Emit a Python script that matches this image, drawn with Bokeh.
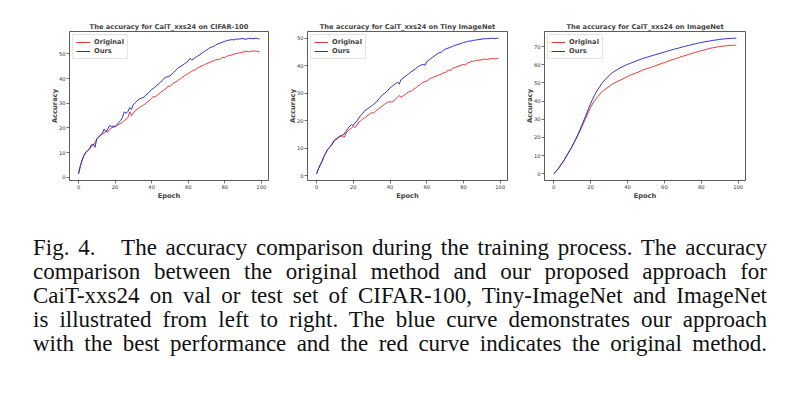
from bokeh.plotting import figure
from bokeh.models import Range1d, Div, FixedTicker
from bokeh.layouts import row, column
from bokeh.embed import file_html
from bokeh.resources import INLINE

epochs = list(range(100))

cifar_original = [1.5, 4.5, 7.0, 8.8, 10.0, 10.8, 11.5, 12.5, 13.0, 14.0,
                  15.5, 16.2, 17.0, 17.5, 18.0, 18.6, 18.3, 19.5, 20.0, 20.3,
                  20.5, 21.0, 21.5, 21.8, 22.3, 23.0, 23.5, 24.2, 26.5, 25.0,
                  26.0, 27.0, 27.5, 28.0, 28.7, 29.0, 29.5, 30.0, 30.8, 31.2,
                  32.0, 32.8, 32.5, 33.2, 33.8, 34.5, 35.0, 35.6, 36.0, 37.0,
                  36.8, 37.5, 38.2, 38.6, 39.0, 39.6, 40.0, 40.6, 41.2, 41.6,
                  42.0, 42.5, 43.0, 43.3, 43.6, 44.2, 44.6, 45.0, 45.2, 45.7,
                  46.0, 46.3, 46.6, 47.0, 47.2, 47.6, 47.8, 47.6, 48.2, 48.6,
                  48.5, 49.0, 49.2, 49.4, 49.6, 49.9, 50.1, 50.2, 50.4, 50.5,
                  50.7, 51.0, 51.1, 50.8, 50.9, 51.1, 51.2, 51.0, 51.1, 50.8]
cifar_ours = [1.5, 4.8, 7.2, 9.0, 10.2, 11.0, 11.6, 13.2, 13.5, 12.2,
              15.6, 16.4, 17.2, 17.8, 19.5, 18.5, 19.6, 21.0, 20.5, 20.8,
              20.6, 21.4, 22.2, 23.0, 24.2, 26.5, 26.0, 26.6, 28.2, 27.6,
              29.5, 30.2, 31.0, 31.6, 32.0, 32.2, 32.6, 33.5, 34.0, 34.8,
              35.6, 36.0, 36.6, 37.4, 38.0, 38.6, 39.4, 40.2, 40.6, 40.8,
              41.0, 41.8, 42.5, 43.2, 44.0, 44.5, 45.0, 45.4, 46.0, 46.5,
              47.0, 48.2, 47.5, 48.0, 48.6, 49.0, 49.5, 50.0, 50.5, 51.0,
              51.5, 52.0, 52.5, 52.8, 53.0, 53.5, 54.0, 54.2, 54.5, 54.8,
              55.0, 55.4, 55.5, 55.6, 55.8, 55.6, 56.0, 55.9, 56.0, 56.1,
              56.2, 55.9, 56.0, 56.2, 56.3, 56.1, 56.2, 56.3, 56.2, 56.0]

tiny_original = [0.8, 2.5, 4.0, 5.2, 7.0, 8.3, 9.5, 10.2, 11.0, 12.0,
                 13.0, 13.4, 14.0, 14.3, 14.5, 14.0, 15.5, 16.3, 17.0, 17.4,
                 18.0, 17.6, 18.5, 19.6, 20.0, 20.6, 21.0, 21.6, 22.0, 22.5,
                 23.0, 22.8, 23.5, 24.0, 24.5, 25.0, 25.5, 26.0, 26.5, 26.8,
                 27.0, 26.8, 27.2, 28.0, 28.5, 29.2, 28.6, 29.0, 29.5, 30.0,
                 30.5, 30.6, 31.0, 31.6, 32.0, 32.6, 33.0, 33.5, 34.0, 34.2,
                 34.5, 35.0, 35.5, 35.6, 36.0, 36.2, 36.5, 36.8, 37.0, 37.4,
                 37.5, 38.0, 38.5, 38.3, 39.0, 39.4, 39.5, 39.8, 40.0, 40.3,
                 40.5, 40.2, 41.0, 41.2, 41.5, 41.6, 41.8, 42.0, 42.0, 42.1,
                 42.2, 42.4, 42.4, 42.3, 42.5, 42.6, 42.6, 42.5, 42.6, 42.6]
tiny_ours = [0.8, 2.6, 4.1, 5.4, 7.1, 8.4, 9.6, 10.4, 11.2, 12.3,
             13.2, 13.6, 14.2, 14.6, 14.8, 15.2, 16.2, 17.2, 18.0, 18.6,
             18.4, 19.2, 20.0, 21.0, 22.0, 22.6, 23.5, 24.0, 24.5, 25.0,
             25.5, 26.0, 26.5, 27.2, 28.0, 28.8, 29.5, 30.0, 30.5, 31.2,
             32.0, 32.5, 33.0, 33.5, 34.0, 33.4, 35.0, 35.5, 36.0, 36.5,
             37.0, 37.6, 38.0, 38.5, 39.0, 39.6, 40.0, 40.3, 40.5, 40.2,
             41.5, 42.0, 42.5, 43.0, 43.5, 44.0, 44.5, 44.8, 45.0, 45.6,
             46.0, 46.3, 46.5, 46.8, 47.0, 47.4, 47.5, 47.8, 48.0, 48.2,
             48.5, 48.6, 48.8, 49.0, 49.0, 49.2, 49.3, 49.4, 49.5, 49.6,
             49.7, 49.8, 49.8, 49.9, 49.9, 50.0, 50.0, 49.9, 50.0, 50.0]

imagenet_original = [0.0, 1.0, 2.0, 3.5, 5.0, 6.5, 8.0, 9.8, 11.5, 13.2,
                     15.0, 17.0, 19.0, 21.0, 23.0, 25.2, 27.5, 29.8, 32.0, 34.3,
                     36.5, 38.3, 40.0, 41.3, 42.5, 43.8, 45.0, 45.8, 46.5, 47.3,
                     48.0, 48.8, 49.5, 50.0, 50.5, 51.0, 51.5, 52.0, 52.5, 53.0,
                     53.5, 54.0, 54.5, 54.9, 55.3, 55.6, 56.0, 56.5, 57.0, 57.3,
                     57.7, 58.0, 58.3, 58.7, 59.0, 59.4, 59.8, 60.2, 60.5, 60.9,
                     61.2, 61.6, 62.0, 62.4, 62.7, 63.0, 63.3, 63.7, 64.0, 64.4,
                     64.7, 65.0, 65.3, 65.7, 66.0, 66.3, 66.6, 66.9, 67.2, 67.5,
                     67.8, 68.0, 68.3, 68.6, 68.8, 69.1, 69.3, 69.5, 69.7, 69.9,
                     70.0, 70.2, 70.3, 70.4, 70.5, 70.6, 70.7, 70.7, 70.8, 70.8]
imagenet_ours = [0.0, 1.0, 2.0, 3.5, 5.0, 6.5, 8.0, 9.8, 11.5, 13.2,
                 15.0, 17.0, 19.0, 21.2, 23.5, 26.0, 28.5, 31.0, 33.5, 36.0,
                 38.5, 40.8, 43.0, 44.8, 46.5, 48.0, 49.5, 50.8, 52.0, 53.0,
                 54.0, 55.0, 55.8, 56.4, 57.0, 57.7, 58.3, 58.8, 59.3, 59.8,
                 60.2, 60.6, 61.0, 61.4, 61.8, 62.2, 62.6, 63.0, 63.3, 63.7,
                 64.0, 64.3, 64.6, 64.9, 65.2, 65.5, 65.8, 66.1, 66.4, 66.7,
                 67.0, 67.3, 67.6, 67.9, 68.2, 68.5, 68.8, 69.0, 69.3, 69.6,
                 69.9, 70.1, 70.4, 70.6, 70.9, 71.1, 71.4, 71.6, 71.8, 72.1,
                 72.3, 72.5, 72.7, 72.9, 73.0, 73.2, 73.4, 73.5, 73.7, 73.8,
                 74.0, 74.1, 74.2, 74.3, 74.4, 74.5, 74.5, 74.6, 74.6, 74.6]

titles = ["The accuracy for CaiT_xxs24 on CIFAR-100",
          "The accuracy for CaiT_xxs24 on Tiny ImageNet",
          "The accuracy for CaiT_xxs24 on ImageNet"]
x_ticks = [0, 20, 40, 60, 80, 100]
y_ticks = [[0, 10, 20, 30, 40, 50], [0, 10, 20, 30, 40, 50],
           [0, 10, 20, 30, 40, 50, 60, 70]]
series_labels = ["Original", "Ours"]
caption_lines = [
    "Fig. 4.&nbsp;&nbsp; The accuracy comparison during the training process. The accuracy",
    "comparison between the original method and our proposed approach for",
    "CaiT-xxs24 on val or test set of CIFAR-100, Tiny-ImageNet and ImageNet",
    "is illustrated from left to right. The blue curve demonstrates our approach",
    "with the best performance and the red curve indicates the original method.",
]

RED = "#e23535"
BLUE = "#2e2ec0"
FONT = "DejaVu Sans"

datasets = [(cifar_original, cifar_ours), (tiny_original, tiny_ours),
            (imagenet_original, imagenet_ours)]
# (canvas width, left border, right border)
geom = [(285, 69, 17), (237, 22, 15), (233, 22, 10)]
TOP, FRAME_H, BOTTOM = 31, 149, 25

figs = []
for i, ((orig, ours), (w, bl, br)) in enumerate(zip(datasets, geom)):
    ymin = min(min(orig), min(ours))
    ymax = max(max(orig), max(ours))
    ypad = 0.05 * (ymax - ymin)
    xpad = 0.05 * (epochs[-1] - epochs[0])
    p = figure(width=w, height=TOP + FRAME_H + BOTTOM, output_backend="svg",
               toolbar_location=None, title=titles[i],
               x_range=Range1d(epochs[0] - xpad, epochs[-1] + xpad),
               y_range=Range1d(ymin - ypad, ymax + ypad),
               min_border_left=bl, min_border_right=br,
               min_border_top=TOP, min_border_bottom=BOTTOM)
    p.line(epochs, orig, color=RED, line_width=1.0, legend_label=series_labels[0])
    p.line(epochs, ours, color=BLUE, line_width=1.0, legend_label=series_labels[1])

    p.title.text_font = FONT
    p.title.text_font_size = "6.7px"
    p.title.text_font_style = "bold"
    p.title.align = "center"
    p.title.standoff = 2
    p.title.offset = 0

    p.xgrid.visible = False
    p.ygrid.visible = False
    p.outline_line_color = "#333333"
    p.outline_line_width = 0.8
    p.outline_line_alpha = 1.0

    for ax in (p.xaxis[0], p.yaxis[0]):
        ax.axis_line_color = None
        ax.major_tick_line_color = "#333333"
        ax.major_tick_line_width = 0.7
        ax.major_tick_out = 3
        ax.major_tick_in = 0
        ax.minor_tick_line_color = None
        ax.major_label_text_font = FONT
        ax.major_label_text_font_size = "5.2px"
        ax.major_label_text_color = "#333333"
        ax.major_label_standoff = 1
        ax.axis_label_text_font = FONT
        ax.axis_label_text_font_size = "6.7px"
        ax.axis_label_text_font_style = "bold"
    p.xaxis[0].axis_label_standoff = 0
    p.yaxis[0].axis_label_standoff = -3
    p.xaxis[0].ticker = FixedTicker(ticks=x_ticks)
    p.yaxis[0].ticker = FixedTicker(ticks=y_ticks[i])
    p.xaxis[0].axis_label = "Epoch"
    p.yaxis[0].axis_label = "Accuracy"

    lg = p.legend[0]
    lg.location = "top_left"
    lg.label_text_font = FONT
    lg.label_text_font_size = "6.7px"
    lg.label_text_font_style = "bold"
    lg.label_height = 8
    lg.glyph_height = 8
    lg.glyph_width = 14
    lg.label_standoff = 4
    lg.spacing = 1
    lg.padding = 3
    lg.margin = 3
    lg.border_line_color = "#cccccc"
    lg.border_line_width = 0.8
    lg.background_fill_alpha = 0.9
    figs.append(p)

line_html = "".join(
    "<div style='text-align:justify;text-align-last:justify;white-space:nowrap;'>%s</div>" % t
    for t in caption_lines)
caption = Div(text=("<div style=\"font-family:'Liberation Serif','Times New Roman',serif;"
                    "font-size:23px;line-height:24px;color:#111;width:734px;"
                    "margin-left:28px;margin-top:26px;\">%s</div>") % line_html,
              width=777, height=160)

layout = column(row(*figs, spacing=0), caption, spacing=0)
open("out.html", "w").write(file_html(layout, INLINE))
